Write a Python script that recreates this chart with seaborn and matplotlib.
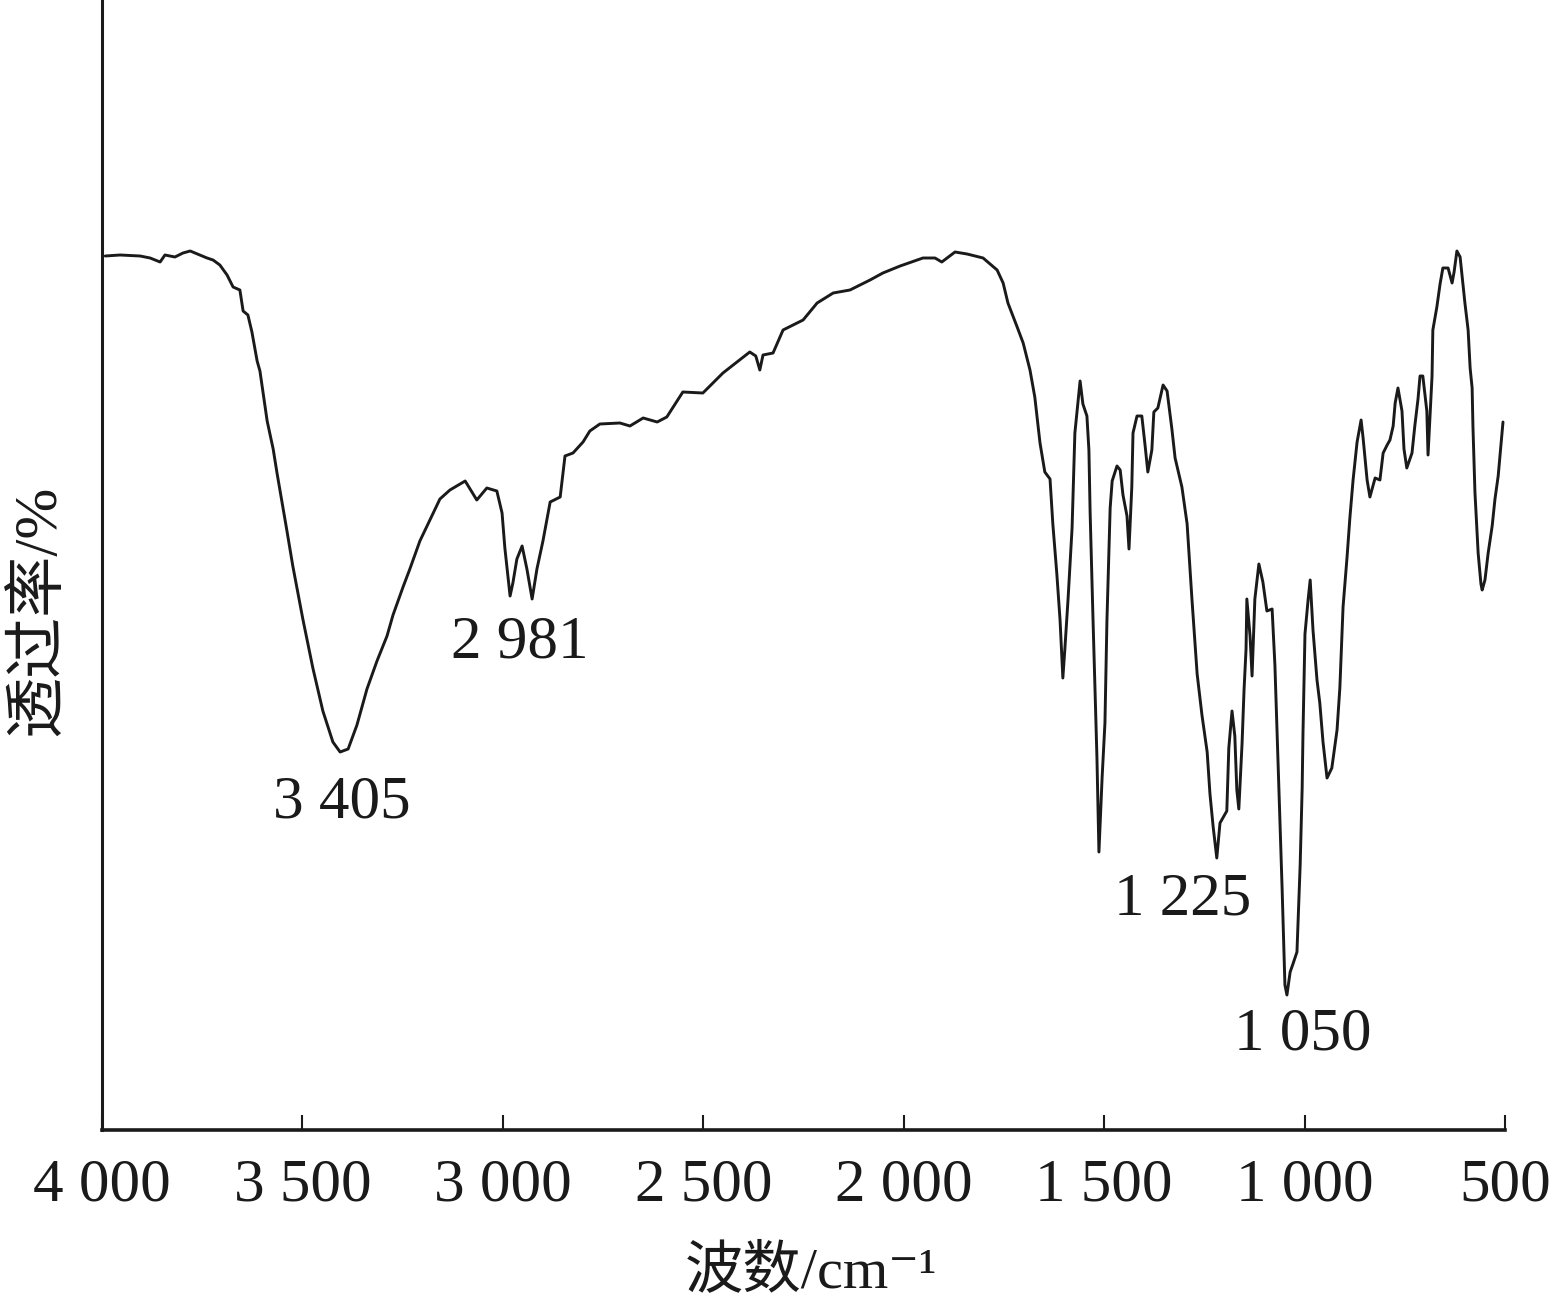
import numpy as np
import pandas as pd
import matplotlib
matplotlib.use("Agg")
import matplotlib.pyplot as plt
import seaborn as sns

# ---- data ----
wavenumber = [3992, 3955, 3905, 3880, 3855, 3843, 3818, 3798, 3780, 3756, 3738, 3723, 3706, 3688,
              3673, 3656, 3648, 3636, 3626, 3613, 3606, 3588, 3573, 3563, 3539, 3524, 3499, 3474,
              3449, 3424, 3406, 3386, 3364, 3339, 3314, 3289, 3274, 3249, 3232, 3207, 3182, 3157,
              3132, 3094, 3065, 3040, 3015, 3002, 2995, 2982, 2975, 2965, 2952, 2940, 2927, 2915,
              2900, 2882, 2857, 2845, 2825, 2800, 2783, 2758, 2708, 2683, 2650, 2615, 2591, 2551,
              2501, 2451, 2384, 2369, 2359, 2351, 2326, 2301, 2266, 2251, 2216, 2176, 2134, 2084,
              2052, 2009, 1952, 1922, 1905, 1872, 1842, 1802, 1767, 1752, 1740, 1717, 1702, 1685,
              1673, 1660, 1648, 1635, 1628, 1618, 1610, 1603, 1598, 1590, 1580, 1573, 1560, 1553,
              1543, 1538, 1535, 1528, 1518, 1513, 1505, 1498, 1493, 1485, 1480, 1468, 1460, 1453,
              1443, 1438, 1431, 1428, 1418, 1406, 1398, 1391, 1381, 1376, 1366, 1353, 1343, 1331,
              1323, 1306, 1293, 1281, 1268, 1256, 1243, 1236, 1228, 1219, 1211, 1194, 1189, 1181,
              1174, 1169, 1164, 1156, 1151, 1146, 1144, 1136, 1131, 1124, 1114, 1104, 1094, 1081,
              1074, 1066, 1056, 1049, 1044, 1036, 1029, 1019, 1011, 1006, 1004, 999, 991, 986,
              979, 969, 962, 954, 944, 932, 919, 912, 904, 894, 887, 879, 869, 859,
              854, 844, 837, 824, 812, 804, 794, 787, 779, 774, 767, 757, 752, 745,
              732, 725, 717, 712, 705, 695, 692, 687, 682, 680, 670, 662, 655, 642,
              632, 627, 620, 612, 605, 600, 592, 587, 582, 580, 575, 567, 560, 557,
              550, 542, 532, 525, 517, 510, 505]
transmittance = [87.4, 87.5, 87.4, 87.2, 86.8, 87.5, 87.3, 87.7, 87.9, 87.5, 87.2, 87.0, 86.5, 85.5,
                 84.3, 84.0, 81.9, 81.5, 79.8, 76.9, 75.9, 70.9, 68.1, 65.6, 60.0, 56.4, 51.1, 46.2,
                 41.9, 38.8, 37.8, 38.1, 40.5, 44.1, 46.9, 49.4, 51.5, 54.3, 56.1, 58.9, 61.0, 63.1,
                 64.0, 64.9, 63.0, 64.2, 63.9, 61.7, 58.2, 53.4, 54.7, 57.1, 58.4, 56.1, 53.1, 56.1,
                 58.9, 62.8, 63.3, 67.4, 67.7, 68.8, 69.9, 70.6, 70.7, 70.4, 71.2, 70.8, 71.3, 73.8,
                 73.7, 75.7, 77.8, 77.4, 76.0, 77.5, 77.7, 80.0, 80.7, 81.0, 82.7, 83.7, 84.0, 85.0,
                 85.7, 86.4, 87.2, 87.2, 86.8, 87.8, 87.6, 87.2, 86.0, 84.7, 82.7, 80.3, 78.7, 76.0,
                 73.3, 68.7, 65.8, 65.1, 60.6, 55.6, 51.0, 45.2, 48.1, 53.1, 60.2, 69.7, 74.9, 72.6,
                 71.4, 68.0, 61.8, 51.4, 37.3, 27.8, 35.3, 40.7, 51.0, 62.2, 64.9, 66.4, 66.0, 63.5,
                 61.4, 58.1, 64.3, 69.7, 71.4, 71.4, 68.5, 65.8, 68.0, 71.8, 72.2, 74.5, 73.9, 70.1,
                 67.2, 64.3, 60.6, 53.1, 45.6, 41.5, 37.8, 33.6, 30.3, 27.2, 30.7, 31.9, 38.2, 41.9,
                 39.4, 34.0, 32.1, 38.6, 44.0, 48.1, 53.1, 49.4, 45.4, 53.1, 56.6, 54.8, 51.9, 52.1,
                 46.5, 36.5, 24.1, 14.5, 13.5, 15.8, 16.6, 17.8, 26.5, 34.2, 39.6, 49.6, 53.1, 55.0,
                 50.0, 45.0, 42.7, 38.8, 35.2, 36.2, 40.0, 44.2, 52.3, 57.3, 61.2, 65.0, 68.8, 71.0,
                 69.2, 65.0, 63.3, 65.2, 65.0, 67.7, 68.5, 69.0, 70.4, 72.7, 74.2, 71.9, 68.1, 66.2,
                 67.7, 70.4, 73.1, 75.4, 75.4, 71.9, 67.5, 71.5, 75.4, 80.0, 82.3, 84.6, 86.2, 86.2,
                 84.7, 85.8, 87.9, 87.3, 84.6, 82.7, 80.0, 76.2, 74.2, 70.4, 63.8, 57.7, 54.6, 54.0,
                 55.0, 57.7, 60.4, 63.1, 65.4, 68.5, 70.8]

x_ticks = [4000, 3500, 3000, 2500, 2000, 1500, 1000, 500]
x_tick_labels = ["4 000", "3 500", "3 000", "2 500", "2 000", "1 500", "1 000", "500"]

peak_labels = ["3 405", "2 981", "1 225", "1 050"]
peak_label_x = [3401, 2957, 1303, 1004]
peak_label_y = [32.7, 48.7, 23.0, 9.5]

x_label = "波数/cm⁻¹"
y_label = "透过率/%"

df = pd.DataFrame({"wavenumber": wavenumber, "transmittance": transmittance})

# ---- styling ----
sns.set_theme(style="white")
plt.rcParams["font.family"] = ["Liberation Serif", "Noto Sans CJK SC", "DejaVu Serif"]

W, H = 1555, 1305
fig = plt.figure(figsize=(W / 100, H / 100), dpi=100)
ax = fig.add_axes([102 / W, (H - 1130) / H, (1505 - 102) / W, 1130 / H])

ink = "#1a1a1a"
sns.lineplot(data=df, x="wavenumber", y="transmittance", sort=False, estimator=None,
             color=ink, linewidth=2.1, ax=ax)

ax.set_xlim(4000, 500)
ax.set_ylim(0, 113)

fs = 44
ax.set_xticks(x_ticks)
ax.set_xticklabels(x_tick_labels, fontsize=fs)
ax.set_yticks([])
ax.tick_params(axis="x", direction="in", length=11, width=1.5, pad=20, colors=ink, bottom=True)

for s in ["top", "right"]:
    ax.spines[s].set_visible(False)
for s in ["left", "bottom"]:
    ax.spines[s].set_color(ink)
ax.spines["left"].set_linewidth(2.2)
ax.spines["bottom"].set_linewidth(2.6)

ax.set_xlabel(x_label, fontsize=42, color=ink)
ax.set_ylabel(y_label, fontsize=fs, color=ink)
ax.xaxis.set_label_coords(0.505, -0.102)
ax.yaxis.set_label_coords(-0.025, 0.46)

for txt, xx, yy in zip(peak_labels, peak_label_x, peak_label_y):
    ax.text(xx, yy, txt, fontsize=fs, ha="center", va="center", color=ink)

fig.savefig("out.png", dpi=100)
